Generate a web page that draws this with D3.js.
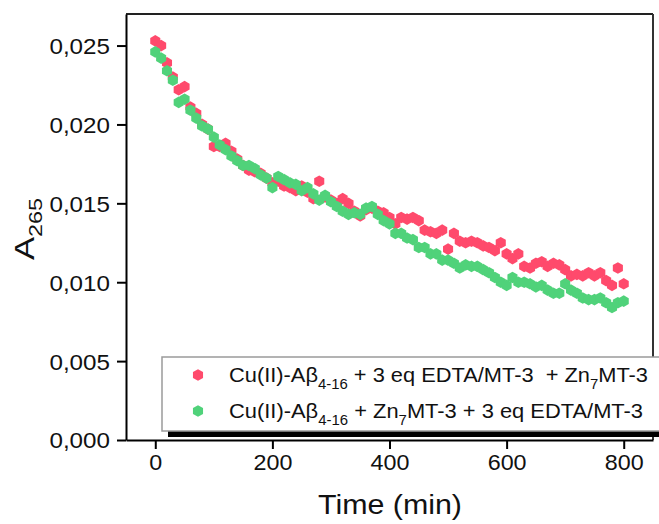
<!DOCTYPE html>
<html><head><meta charset="utf-8">
<script src="https://cdn.jsdelivr.net/npm/d3@7"></script>
<style>body{margin:0;background:#fff;} text{font-family:"Liberation Sans",Arial,sans-serif;}</style>
</head><body><svg id="c" width="659" height="524"></svg>
<script>
const times = d3.range(0, 801, 10);
const redValues = [0.0253,0.0250,0.0239,0.0230,0.0222,0.0224,0.0211,0.0207,0.0200,0.0197,
0.0186,0.0186,0.0188,0.0183,0.0178,0.0174,0.0171,0.0170,0.0169,0.0166,
0.0163,0.0164,0.0161,0.0160,0.0158,0.0161,0.0157,0.0153,0.0164,0.0154,
0.0152,0.0150,0.0153,0.0150,0.0145,0.0142,0.0146,0.0147,0.0145,0.0144,
0.0141,0.0137,0.0141,0.0140,0.0141,0.0139,0.0133,0.0132,0.0131,0.0133,
0.0121,0.0131,0.0126,0.0125,0.0126,0.0125,0.0123,0.0122,0.0120,0.0125,
0.0118,0.0115,0.0118,0.0110,0.0109,0.0112,0.0113,0.0110,0.0112,0.0111,
0.0108,0.0104,0.0105,0.0104,0.0106,0.0104,0.0106,0.0101,0.0098,0.0109,0.0099];
const greenValues = [0.0246,0.0242,0.0234,0.0228,0.0214,0.0216,0.0209,0.0204,0.0199,0.0197,
0.0192,0.0187,0.0184,0.0180,0.0177,0.0174,0.0174,0.0172,0.0168,0.0166,
0.0160,0.0167,0.0165,0.0163,0.0162,0.0158,0.0160,0.0156,0.0152,0.0155,
0.0151,0.0148,0.0145,0.0143,0.0144,0.0143,0.0147,0.0148,0.0143,0.0139,
0.0137,0.0131,0.0131,0.0128,0.0127,0.0122,0.0122,0.0118,0.0118,0.0114,
0.0114,0.0112,0.0109,0.0111,0.0110,0.0110,0.0108,0.0106,0.0103,0.0100,
0.0098,0.0103,0.0100,0.0100,0.0099,0.0097,0.0098,0.0095,0.0093,0.0093,
0.0099,0.0095,0.0093,0.0090,0.0089,0.0089,0.0090,0.0087,0.0084,0.0087,0.0088];
const xTicks = [0, 200, 400, 600, 800];
const yTicks = [0, 0.005, 0.010, 0.015, 0.020, 0.025];
const seriesColors = ["#ff4a6c", "#50d27a"];

const svg = d3.select("#c");
const L = 126, T = 14, R = 653, B = 440;
const x = d3.scaleLinear().domain([-50, 850]).range([L, R]);
const y = d3.scaleLinear().domain([0, 0.027]).range([B, T]);

const hex = { draw(ctx, size) {
  const r = Math.sqrt(size / (1.5 * Math.sqrt(3)));
  for (let i = 0; i < 6; i++) {
    const a = Math.PI / 3 * i - Math.PI / 2;
    const px = r * Math.cos(a), py = r * Math.sin(a);
    if (i === 0) ctx.moveTo(px, py); else ctx.lineTo(px, py);
  }
  ctx.closePath();
}};
const sym = d3.symbol().type(hex).size(88);

function stretch(sel, f) {
  sel.each(function() {
    const w = this.getComputedTextLength();
    d3.select(this).attr("textLength", w * f).attr("lengthAdjust", "spacingAndGlyphs");
  });
}

// frame top/right
svg.append("line").attr("x1", L).attr("x2", R).attr("y1", T).attr("y2", T).attr("stroke", "#222").attr("stroke-width", 2);
svg.append("line").attr("x1", R).attr("x2", R).attr("y1", T).attr("y2", B).attr("stroke", "#333").attr("stroke-width", 2);

// data
[redValues, greenValues].forEach((vals, si) => {
  svg.append("g").selectAll("path").data(times.map((t, i) => [t, vals[i]]))
    .join("path").attr("d", sym)
    .attr("transform", d => `translate(${x(d[0])},${y(d[1])})`)
    .attr("fill", seriesColors[si]);
});

const fmt = v => d3.format(".3f")(v).replace(".", ",");
const yAxis = svg.append("g").attr("transform", `translate(${L},0)`)
  .call(d3.axisLeft(y).tickValues(yTicks).tickFormat(fmt).tickSize(9).tickSizeOuter(0));
const xAxis = svg.append("g").attr("transform", `translate(0,${B})`)
  .call(d3.axisBottom(x).tickValues(xTicks).tickSize(9).tickSizeOuter(0));
[yAxis, xAxis].forEach(a => {
  a.select(".domain").attr("stroke", "#000").attr("stroke-width", 2);
  a.selectAll(".tick line").attr("stroke", "#000").attr("stroke-width", 2);
  a.selectAll(".tick text").attr("font-size", 22).attr("fill", "#111")
   .attr("font-family", "Liberation Sans, Arial, sans-serif");
});
yAxis.selectAll(".tick text").attr("x", -16).attr("dy", "0.36em");
xAxis.selectAll(".tick text").attr("y", 14).attr("dy", "0.71em");
stretch(yAxis.selectAll(".tick text"), 1.1);
stretch(xAxis.selectAll(".tick text"), 1.06);

// legend
const lg = svg.append("g");
lg.append("rect").attr("x", 168).attr("y", 431).attr("width", 500).attr("height", 6).attr("fill", "#000");
lg.append("rect").attr("x", 162).attr("y", 357).attr("width", 510).attr("height", 74)
  .attr("fill", "#fff").attr("stroke", "#9a9a9a").attr("stroke-width", 1.5);
const legendRows = [
  {parts: [["Cu(II)-Aβ", 0], ["4-16", 1], [" + 3 eq EDTA/MT-3  + Zn", 0], ["7", 1], ["MT-3", 0]], yy: 375, w: 419},
  {parts: [["Cu(II)-Aβ", 0], ["4-16", 1], [" + Zn", 0], ["7", 1], ["MT-3 + 3 eq EDTA/MT-3", 0]], yy: 411, w: 414}
];
legendRows.forEach((row, i) => {
  lg.append("path").attr("d", sym())
    .attr("transform", `translate(198,${row.yy})`).attr("fill", seriesColors[i]);
  const t = lg.append("text").attr("x", 229).attr("y", row.yy + 7).attr("font-size", 20.5)
    .attr("fill", "#111").style("white-space", "pre")
    .attr("textLength", row.w).attr("lengthAdjust", "spacingAndGlyphs");
  let sub = false;
  row.parts.forEach(([s, isSub]) => {
    const ts = t.append("tspan").text(s);
    if (isSub && !sub) { ts.attr("dy", 7).attr("font-size", 14); sub = true; }
    else if (!isSub && sub) { ts.attr("dy", -7); sub = false; }
  });
});

// titles
svg.append("text").attr("x", 318).attr("y", 514)
  .attr("font-size", 27).attr("fill", "#111").attr("textLength", 144)
  .attr("lengthAdjust", "spacingAndGlyphs").text("Time (min)");
const yt = svg.append("text").attr("transform", "translate(34,260) rotate(-90)")
  .attr("font-size", 28).attr("fill", "#111")
  .attr("textLength", 62).attr("lengthAdjust", "spacingAndGlyphs");
yt.append("tspan").text("A");
yt.append("tspan").attr("dy", 8).attr("font-size", 19).text("265");
</script></body></html>
